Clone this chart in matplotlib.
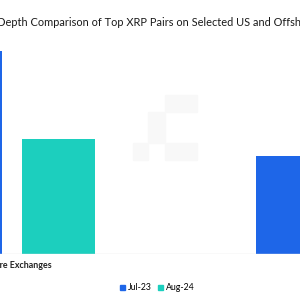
import matplotlib
matplotlib.use("Agg")
import matplotlib.pyplot as plt
from matplotlib.patches import Rectangle, Patch
import numpy as np

# ---- data ----
categories = ["Offshore Exchanges", "US Exchanges"]
series_names = ["Jul-23", "Aug-24"]
jul23 = [20.3, 9.8]
aug24 = [11.5, 6.0]
title = "Market Depth Comparison of Top XRP Pairs on Selected US and Offshore Exchanges"

BLUE = "#1e66e8"
TEAL = "#1ccfbe"
FONT = ["Lato", "DejaVu Sans"]

W = H = 300
fig = plt.figure(figsize=(3, 3), dpi=100)
fig.patch.set_facecolor("white")

# axes extend beyond the figure (the reference is a crop)
cat_px = 327.0
center0_px = 12.0
left_px = center0_px - cat_px / 2
ax = fig.add_axes([left_px / W, 46 / H, 2 * cat_px / W, 214 / H])
ax.set_xlim(-0.5, 1.5)
ax.set_ylim(0, 21.4)

bw = 73 / cat_px
off = (73 + 20) / 2 / cat_px
x = np.arange(len(categories))
ax.bar(x - off, jul23, width=bw, color=BLUE, zorder=2)
ax.bar(x + off, aug24, width=bw, color=TEAL, zorder=2)
ax.axhline(0, color="#e3e3e3", lw=1.0, zorder=3)

for s in ax.spines.values():
    s.set_visible(False)
ax.set_yticks([])
ax.set_xticks(x)
ax.set_xticklabels(categories, fontsize=6.4, color="#222222", family=FONT, fontweight="bold")
ax.tick_params(axis="x", length=0, pad=5)
ax.set_facecolor("none")

# faint watermark logo
wm = [(133, 143, 15, 17), (148, 112, 17, 31), (165, 95, 32, 17), (165, 143, 32, 17)]
for (px, py, pw, ph) in wm:
    fig.patches.append(Rectangle((px / W, 1 - (py + ph) / H), pw / W, ph / H,
                                 transform=fig.transFigure, color="#f8f8f8", zorder=0))

# title: place so that "Depth" starts at about x=-3 px
fig.canvas.draw()
r = fig.canvas.get_renderer()
tmp = fig.text(0, 0, "Market ", fontsize=7.95, family=FONT)
wpre = tmp.get_window_extent(renderer=r).width
tmp.remove()
fig.text((-3 - wpre) / W, 1 - 23 / H, title, fontsize=7.95, family=FONT,
         color="#1a1a1a", ha="left", va="center")

handles = [Patch(color=BLUE), Patch(color=TEAL)]
fig.legend(handles, series_names, loc="center", bbox_to_anchor=(157 / W, 1 - 288 / H),
           ncol=2, frameon=False, prop={"family": FONT, "size": 6.3},
           handlelength=0.6, handleheight=0.6, handletextpad=0.3, columnspacing=0.7)

fig.savefig("out.png", dpi=100, facecolor="white")
